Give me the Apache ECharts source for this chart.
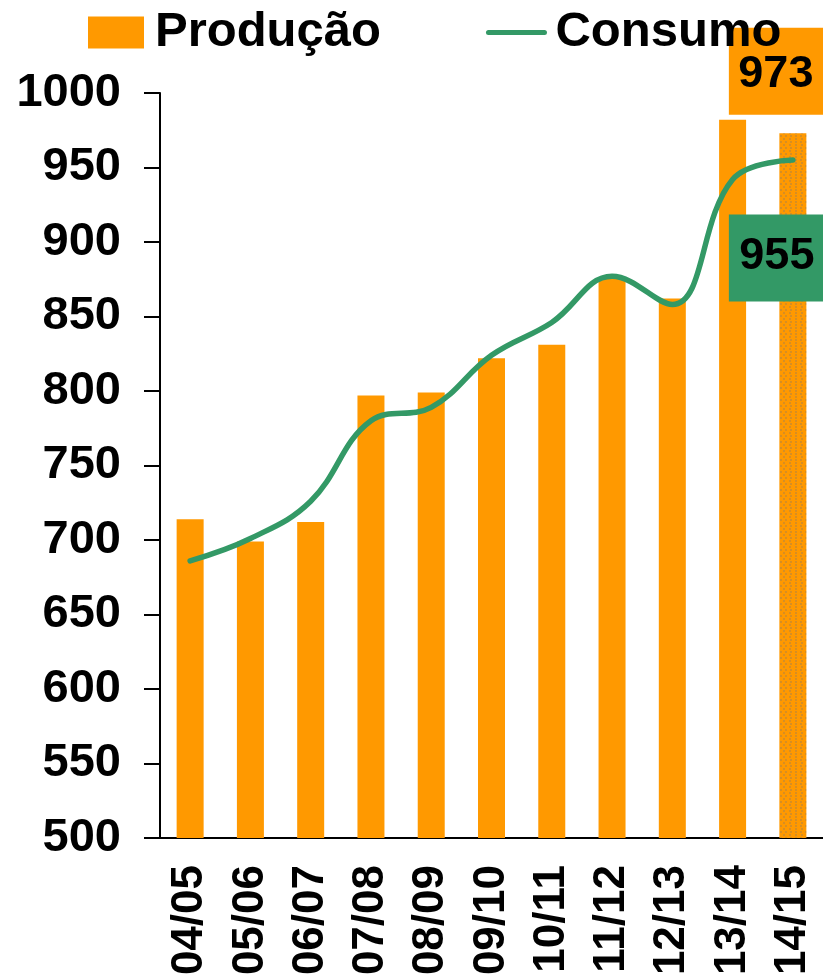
<!DOCTYPE html>
<html>
<head>
<meta charset="utf-8">
<script src="https://cdn.jsdelivr.net/npm/echarts@6/dist/echarts.min.js"></script>
<style>
  html, body { margin: 0; padding: 0; background: #fff; }
  #chart { width: 823px; height: 980px; }
</style>
</head>
<body>
<div id="chart"></div>
<script>
// safras
var safras = ["04/05", "05/06", "06/07", "07/08", "08/09", "09/10", "10/11", "11/12", "12/13", "13/14", "14/15"];
var producao = [714, 699, 712, 797, 799, 822, 831, 876, 862, 982, 973];
var consumo = [686, 701, 726, 780, 789, 824, 846, 877, 858, 942, 955];
var yTicks = {min: 500, max: 1000, step: 50};

var fonte = "'Liberation Sans', Arial, sans-serif";
var laranja = "#FF9900", verde = "#339966";

var barData = producao.map(function (v, i) {
    if (i != producao.length - 1) return v;
    // ultima safra: estimativa, barra pontilhada
    return {
        value: v,
        itemStyle: {
            decal: {
                symbol: "circle", symbolSize: 0.9, color: "rgba(120,120,120,0.45)",
                dashArrayX: [[2, 2.3], [0, 2.15, 2, 0.15]], dashArrayY: [2, 0.3]
            }
        }
    };
});
var last = safras.length - 1;

var myChart = echarts.init(document.getElementById("chart"));
myChart.setOption({
    animation: false,
    textStyle: {fontFamily: fonte},
    grid: {left: 160, right: -9, top: 93, bottom: 142, containLabel: false},
    legend: {
        left: 83, top: 3, itemWidth: 56, itemHeight: 32, itemGap: 105, z: 10,
        textStyle: {fontSize: 49, fontWeight: "bold", color: "#000", fontFamily: fonte, padding: [0, 0, 0, 6]},
        data: [
            {name: "Produção", icon: "rect"},
            {name: "Consumo", itemStyle: {opacity: 0}, lineStyle: {width: 5, color: verde, cap: "round"}}
        ]
    },
    xAxis: {
        type: "category", data: safras,
        axisLine: {lineStyle: {color: "#000", width: 2}},
        axisTick: {length: 16, lineStyle: {color: "#000", width: 2}},
        axisLabel: {rotate: 90, margin: 27, fontSize: 44, fontWeight: "bold", color: "#000", fontFamily: fonte}
    },
    yAxis: {
        type: "value", min: yTicks.min, max: yTicks.max, interval: yTicks.step,
        axisLine: {show: true, lineStyle: {color: "#000", width: 2}},
        axisTick: {show: true, length: 16, lineStyle: {color: "#000", width: 2}},
        splitLine: {show: false},
        axisLabel: {
            margin: 39, fontSize: 47, fontWeight: "bold", color: "#000", fontFamily: fonte,
            formatter: function (v) { return String(v); }
        }
    },
    series: [{
        name: "Produção", type: "bar", barWidth: 27, data: barData,
        itemStyle: {color: laranja},
        markPoint: {
            symbol: "rect", symbolSize: [100, 87], symbolOffset: [-14, -62], z: 5,
            itemStyle: {color: laranja},
            label: {show: true, formatter: "{c}", fontSize: 45, fontWeight: "bold", color: "#000", fontFamily: fonte, offset: [-3, 3]},
            data: [{coord: [last, producao[last]], value: producao[last]}]
        }
    }, {
        name: "Consumo", type: "line", data: consumo, smooth: 0.4, symbol: "none",
        lineStyle: {color: verde, width: 5.5, cap: "round"},
        itemStyle: {color: verde},
        z: 3,
        markPoint: {
            symbol: "rect", symbolSize: [100, 87], symbolOffset: [-14, 98], z: 5,
            itemStyle: {color: verde},
            label: {show: true, formatter: "{c}", fontSize: 45, fontWeight: "bold", color: "#000", fontFamily: fonte, offset: [-2, -1]},
            data: [{coord: [last, consumo[last]], value: consumo[last]}]
        }
    }]
});
</script>
</body>
</html>
